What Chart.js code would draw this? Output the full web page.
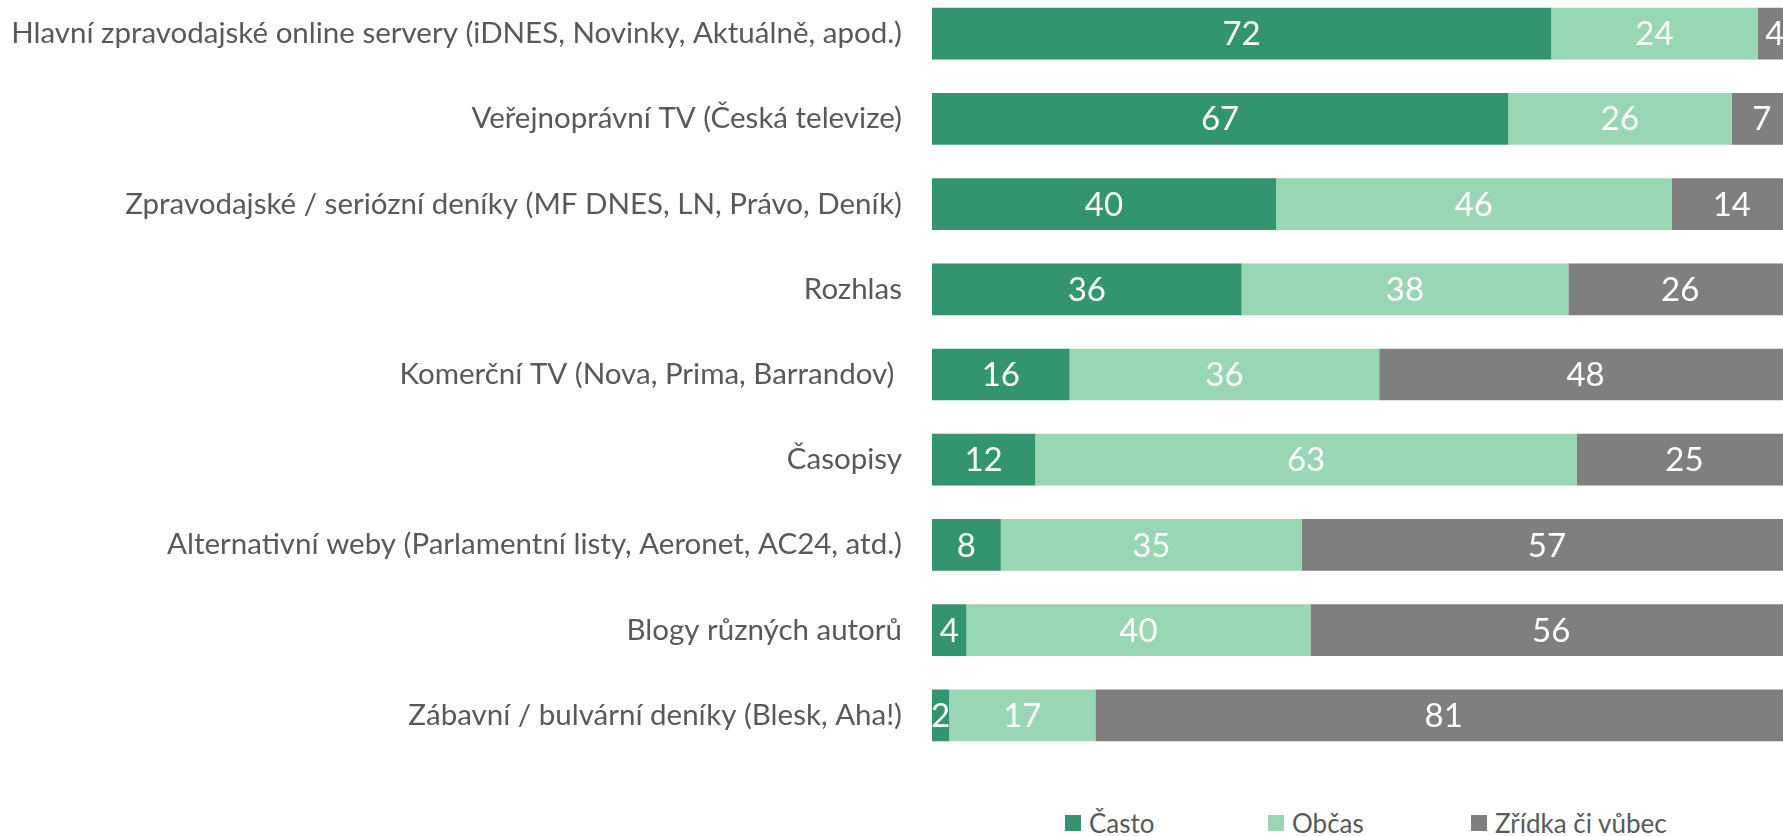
<!DOCTYPE html>
<html>
<head>
<meta charset="utf-8">
<script src="https://cdn.jsdelivr.net/npm/chart.js@4.4.1/dist/chart.umd.min.js"></script>
<style>
  html, body { margin: 0; padding: 0; background: #fff; }
  #page { position: relative; width: 1783px; height: 836px; overflow: hidden; }
  #wrap { position: absolute; left: 0; top: -9px; }
  #legend { position: absolute; left: 1065px; top: 807px; display: flex; font-family: Lato, sans-serif; font-size: 26px; color: #595959; }
  #legend .item { display: flex; align-items: center; width: 203px; }
  #legend .box { width: 16px; height: 16px; margin-right: 8px; }
</style>
</head>
<body>
<div id="page">
  <div id="wrap"><canvas id="bar-chart" width="1800" height="767"></canvas></div>
  <div id="legend"></div>
</div>
<script>
// Categories and series
var categories = [
    'Hlavní zpravodajské online servery (iDNES, Novinky, Aktuálně, apod.)',
    'Veřejnoprávní TV (Česká televize)',
    'Zpravodajské / seriózní deníky (MF DNES, LN, Právo, Deník)',
    'Rozhlas',
    'Komerční TV (Nova, Prima, Barrandov) ',
    'Časopisy',
    'Alternativní weby (Parlamentní listy, Aeronet, AC24, atd.)',
    'Blogy různých autorů',
    'Zábavní / bulvární deníky (Blesk, Aha!)'
];
var casto  = [72, 67, 40, 36, 16, 12, 8, 4, 2];
var obcas  = [24, 26, 46, 38, 36, 63, 35, 40, 17];
var zridka = [4, 7, 14, 26, 48, 25, 57, 56, 81];
var seriesNames = ['Často', 'Občas', 'Zřídka či vůbec'];
var seriesColors = ['#33956F', '#99D6B4', '#7F7F7F'];

Chart.defaults.font.family = 'Lato, sans-serif';

// values written inside the bars
var valueLabels = {
    id: 'valueLabels',
    afterDatasetsDraw: function (chart) {
        var ctx = chart.ctx;
        ctx.save();
        ctx.fillStyle = '#ffffff';
        ctx.font = '33px Lato, sans-serif';
        ctx.textAlign = 'center';
        ctx.textBaseline = 'middle';
        chart.data.datasets.forEach(function (ds, i) {
            chart.getDatasetMeta(i).data.forEach(function (bar, j) {
                ctx.fillText(ds.data[j], (bar.x + bar.base) / 2, bar.y + 1);
            });
        });
        ctx.restore();
    }
};

// legend built as html from the datasets
var htmlLegend = {
    id: 'htmlLegend',
    afterUpdate: function (chart) {
        var box = document.getElementById('legend');
        box.innerHTML = '';
        chart.data.datasets.forEach(function (ds) {
            var item = document.createElement('div');
            item.className = 'item';
            var sw = document.createElement('span');
            sw.className = 'box';
            sw.style.background = ds.backgroundColor;
            var tx = document.createElement('span');
            tx.textContent = ds.label;
            item.appendChild(sw);
            item.appendChild(tx);
            box.appendChild(item);
        });
    }
};

var chartData = {
    labels: categories,
    datasets: [
        { label: seriesNames[0], data: casto, backgroundColor: seriesColors[0] },
        { label: seriesNames[1], data: obcas, backgroundColor: seriesColors[1] },
        { label: seriesNames[2], data: zridka, backgroundColor: seriesColors[2] }
    ]
};

var chartOptions = {
    indexAxis: 'y',
    responsive: false,
    animation: false,
    layout: { padding: { right: 8 } },
    datasets: { bar: { categoryPercentage: 1, barPercentage: 0.607 } },
    plugins: { legend: { display: false }, tooltip: { enabled: false } },
    scales: {
        x: { stacked: true, min: 0, max: 100, display: false },
        y: {
            stacked: true,
            grid: { display: false, drawTicks: false },
            border: { display: false },
            ticks: { color: '#595959', font: { size: 29.5 }, padding: 30 },
            afterFit: function (scale) {
                scale.width = 932;
                scale.paddingTop = 0;
                scale.paddingBottom = 0;
            }
        }
    }
};

var barChart = new Chart(document.getElementById('bar-chart'), {
    type: 'bar',
    data: chartData,
    options: chartOptions,
    plugins: [valueLabels, htmlLegend]
});
</script>
</body>
</html>
